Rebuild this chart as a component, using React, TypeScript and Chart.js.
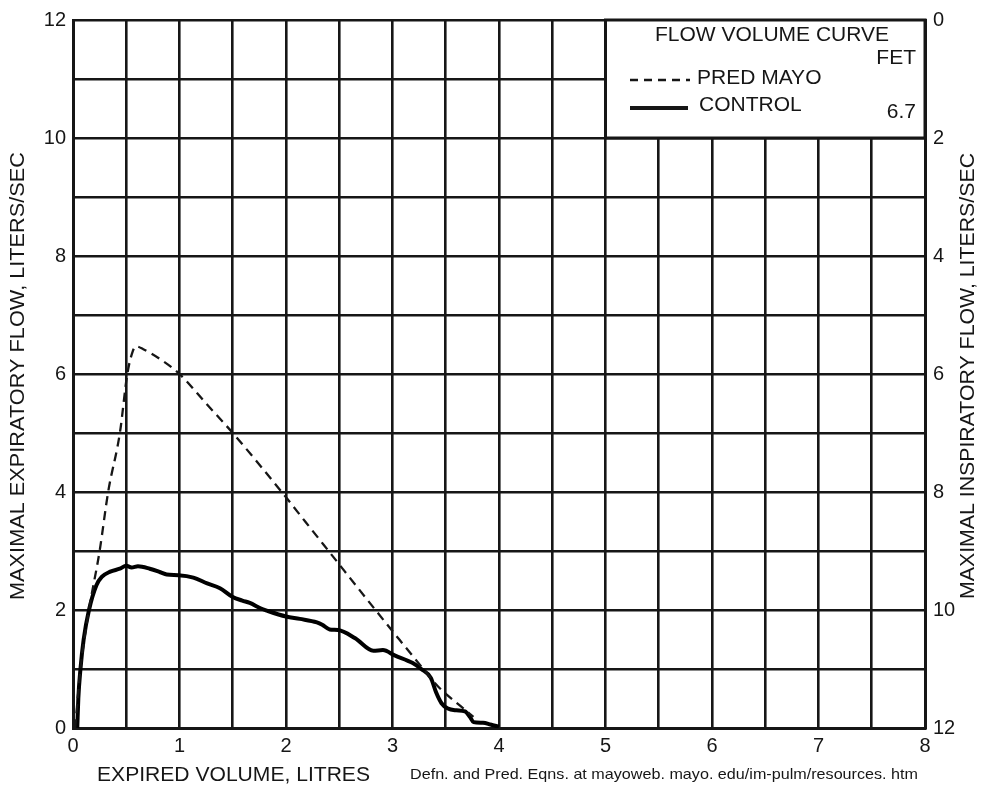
import React, { useEffect, useRef } from 'react';
import { Chart, registerables } from 'chart.js';

Chart.register(...registerables);

// ---- Data ----
const predVolume = [0.02, 0.07, 0.15, 0.25, 0.33, 0.44, 0.51, 0.56, 0.59, 0.66, 0.82, 1.0, 1.25, 1.5, 1.96, 2.18, 2.4, 2.84, 3.05, 3.29, 3.43, 3.64, 3.76];
const predFlow = [0.0, 1.0, 2.0, 3.0, 4.0, 5.0, 6.0, 6.38, 6.47, 6.42, 6.25, 6.0, 5.5, 5.0, 4.0, 3.5, 3.0, 2.0, 1.53, 1.0, 0.7, 0.37, 0.19];

const controlVolume = [0.04, 0.05, 0.07, 0.10, 0.15, 0.22, 0.27, 0.35, 0.44, 0.5, 0.55, 0.61, 0.72, 0.82, 0.88, 0.99, 1.13, 1.26, 1.38, 1.5, 1.59, 1.66, 1.76, 1.82, 2.0, 2.13, 2.29, 2.34, 2.41, 2.49, 2.65, 2.82, 2.91, 3.02, 3.19, 3.27, 3.36, 3.41, 3.46, 3.52, 3.6, 3.68, 3.73, 3.76, 3.85, 3.92, 4.0];
const controlFlow = [0.0, 0.5, 1.0, 1.5, 2.0, 2.42, 2.56, 2.65, 2.70, 2.75, 2.72, 2.74, 2.70, 2.64, 2.60, 2.59, 2.55, 2.45, 2.37, 2.22, 2.16, 2.12, 2.03, 1.99, 1.89, 1.85, 1.79, 1.75, 1.67, 1.66, 1.52, 1.31, 1.32, 1.23, 1.10, 1.0, 0.85, 0.6, 0.42, 0.33, 0.30, 0.28, 0.18, 0.10, 0.09, 0.06, 0.02];

const xTickLabels = ['0', '1', '2', '3', '4', '5', '6', '7', '8'];
const yTickLabels = ['0', '2', '4', '6', '8', '10', '12'];

const legendTitle = 'FLOW VOLUME CURVE';
const legendHeader = 'FET';
const predLabel = 'PRED MAYO';
const controlLabel = 'CONTROL';
const controlFet = '6.7';

const xTitle = 'EXPIRED VOLUME, LITRES';
const leftTitle = 'MAXIMAL EXPIRATORY FLOW, LITERS/SEC';
const rightTitle = 'MAXIMAL INSPIRATORY FLOW, LITERS/SEC';
const footnote = 'Defn. and Pred. Eqns. at mayoweb. mayo. edu/im-pulm/resources. htm';

const FONT = '"Liberation Sans", Arial, Helvetica, sans-serif';
const INK = '#161616';

function fitText(
  ctx: CanvasRenderingContext2D,
  text: string,
  cx: number,
  cy: number,
  width: number,
  size: number,
  rot = 0
) {
  ctx.save();
  ctx.translate(cx, cy);
  if (rot) ctx.rotate(rot);
  ctx.font = `${size}px ${FONT}`;
  ctx.fillStyle = INK;
  ctx.textAlign = 'center';
  ctx.textBaseline = 'middle';
  const m = ctx.measureText(text).width;
  ctx.scale(width / m, 1);
  ctx.fillText(text, 0, 0);
  ctx.restore();
}

function plainText(
  ctx: CanvasRenderingContext2D,
  text: string,
  x: number,
  y: number,
  size: number,
  align: CanvasTextAlign
) {
  ctx.save();
  ctx.font = `${size}px ${FONT}`;
  ctx.fillStyle = INK;
  ctx.textAlign = align;
  ctx.textBaseline = 'middle';
  ctx.fillText(text, x, y);
  ctx.restore();
}

const annotationPlugin = {
  id: 'flowAnnotations',
  afterDraw(chart: any) {
    const ctx: CanvasRenderingContext2D = chart.ctx;
    const xs = chart.scales.x;
    const ys = chart.scales.y;

    // Legend box: covers x 5..8, y 10..12
    const bx0 = xs.getPixelForValue(5);
    const bx1 = xs.getPixelForValue(8);
    const by0 = ys.getPixelForValue(12);
    const by1 = ys.getPixelForValue(10);
    ctx.save();
    ctx.fillStyle = '#ffffff';
    ctx.fillRect(bx0, by0, bx1 - bx0, by1 - by0);
    ctx.strokeStyle = INK;
    ctx.lineWidth = 3;
    ctx.lineCap = 'square';
    ctx.strokeRect(bx0, by0, bx1 - bx0, by1 - by0);
    ctx.restore();

    plainText(ctx, legendTitle, 772, 35.5, 21, 'center');
    plainText(ctx, legendHeader, 916, 58, 21, 'right');
    plainText(ctx, predLabel, 697, 78.5, 21, 'left');
    plainText(ctx, controlLabel, 699, 105.5, 21, 'left');
    plainText(ctx, controlFet, 916, 112, 21, 'right');

    ctx.save();
    ctx.strokeStyle = INK;
    ctx.lineWidth = 2.3;
    ctx.setLineDash([8, 6]);
    ctx.beginPath();
    ctx.moveTo(630, 80);
    ctx.lineTo(690, 80);
    ctx.stroke();
    ctx.setLineDash([]);
    ctx.lineWidth = 4;
    ctx.beginPath();
    ctx.moveTo(630, 108);
    ctx.lineTo(688, 108);
    ctx.stroke();
    ctx.restore();

    // Axis titles and footnote
    fitText(ctx, leftTitle, 18, 376, 448, 21, -Math.PI / 2);
    fitText(ctx, rightTitle, 968, 376, 446, 21, -Math.PI / 2);
    fitText(ctx, xTitle, 233.5, 775, 273, 20);
    fitText(ctx, footnote, 664, 775, 508, 15);
  },
};

export default function App() {
  const canvasRef = useRef<HTMLCanvasElement | null>(null);

  useEffect(() => {
    document.body.style.margin = '0';
    const canvas = canvasRef.current;
    if (!canvas) return;

    const tickFont = { family: FONT, size: 20 };
    const gridOpts = { color: INK, lineWidth: 2.6, drawTicks: false };

    const chart = new Chart(canvas, {
      type: 'scatter',
      data: {
        datasets: [
          {
            label: predLabel,
            data: predVolume.map((x, i) => ({ x, y: predFlow[i] })),
            showLine: true,
            borderColor: INK,
            borderWidth: 2.3,
            borderDash: [9, 6],
            pointRadius: 0,
            cubicInterpolationMode: 'monotone',
            fill: false,
          },
          {
            label: controlLabel,
            data: controlVolume.map((x, i) => ({ x, y: controlFlow[i] })),
            showLine: true,
            borderColor: '#000',
            borderWidth: 4,
            pointRadius: 0,
            cubicInterpolationMode: 'monotone',
            fill: false,
          },
        ],
      },
      options: {
        animation: false,
        responsive: false,
        maintainAspectRatio: false,
        layout: { padding: { top: 18, left: 0, right: 0, bottom: 0 } },
        plugins: {
          legend: { display: false },
          tooltip: { enabled: false },
        },
        scales: {
          x: {
            type: 'linear',
            min: 0,
            max: 8,
            ticks: {
              stepSize: 0.5,
              autoSkip: false,
              maxRotation: 0,
              padding: 6,
              color: INK,
              font: tickFont,
              callback: (v: any) => {
                const n = Number(v);
                return Number.isInteger(n) ? xTickLabels[n] : '';
              },
            },
            grid: gridOpts,
            border: { display: true, color: INK, width: 3 },
            afterFit: (s: any) => {
              s.height = 57;
            },
          },
          y: {
            type: 'linear',
            position: 'left',
            min: 0,
            max: 12,
            ticks: {
              stepSize: 1,
              autoSkip: false,
              padding: 7,
              color: INK,
              font: tickFont,
              callback: (v: any) => {
                const n = Number(v);
                return n % 2 === 0 ? yTickLabels[n / 2] : '';
              },
            },
            grid: gridOpts,
            border: { display: true, color: INK, width: 3 },
            afterFit: (s: any) => {
              s.width = 73;
            },
          },
          y2: {
            type: 'linear',
            position: 'right',
            min: 0,
            max: 12,
            reverse: true,
            ticks: {
              stepSize: 1,
              autoSkip: false,
              padding: 8,
              color: INK,
              font: tickFont,
              callback: (v: any) => {
                const n = Number(v);
                return n % 2 === 0 ? yTickLabels[n / 2] : '';
              },
            },
            grid: { display: false, drawTicks: false },
            border: { display: true, color: INK, width: 3 },
            afterFit: (s: any) => {
              s.width = 69;
            },
          },
        },
      } as any,
      plugins: [annotationPlugin],
    });

    return () => {
      chart.destroy();
    };
  }, []);

  return (
    <canvas
      ref={canvasRef}
      width={994}
      height={785}
      style={{ display: 'block', width: '994px', height: '785px' }}
    />
  );
}
